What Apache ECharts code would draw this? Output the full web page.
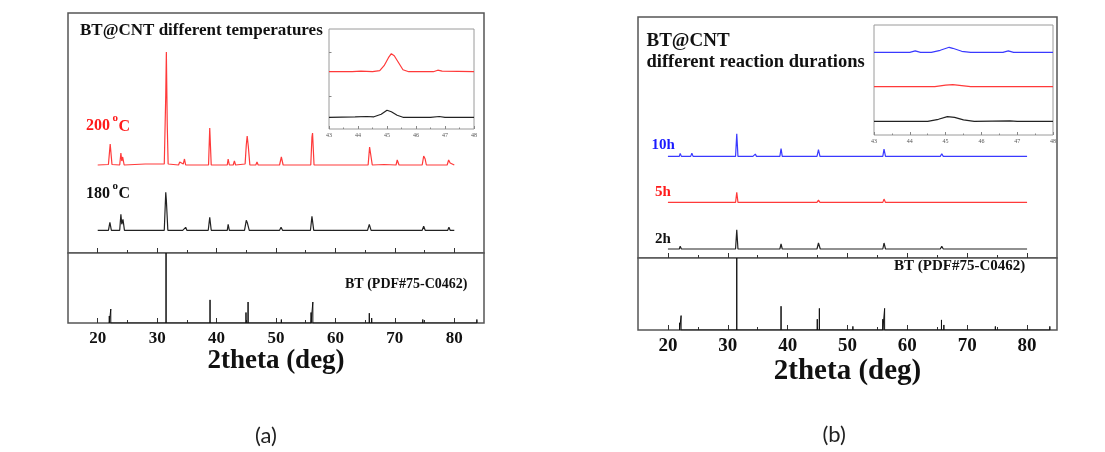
<!DOCTYPE html>
<html lang="en">
<head>
<meta charset="UTF-8">
<title>BT@CNT XRD</title>
<script src="https://cdn.jsdelivr.net/npm/echarts@6/dist/echarts.min.js"></script>
<style>
  body, html { padding: 0; margin: 0; background: #fff; }
</style>
</head>
<body>
<div id="chart" style="width:1105px;height:452px;"></div>
<script>
// 2theta range and tick labels
var xRange = [15, 85];
var majorTicks = [20, 30, 40, 50, 60, 70, 80];
var minorTicks = [25, 35, 45, 55, 65, 75];
var insetTicks = [43, 44, 45, 46, 47, 48];

// (a) different temperatures, intensity above own baseline [2theta, a.u.]
var t200 = [[20,0],[21.8,0.5],[22.1,21],[22.4,0.5],[23.7,0],[23.9,12],[24.05,4],[24.2,8],[24.45,0],[28,1],[31.2,1],[31.45,70],[31.55,113],[31.7,40],[31.85,1],[33.6,0],[33.8,3],[34.0,1],[34.4,1],[34.6,6],[34.8,0],[38.65,0],[38.85,37],[39.1,0],[41.8,0],[41.95,6],[42.15,0],[42.8,0],[43.0,4],[43.2,0],[44.8,1],[45.0,20],[45.15,29],[45.35,18],[45.6,0],[46.6,0],[46.8,3],[47.0,0],[50.6,0],[50.9,8],[51.2,0],[55.85,0],[56.05,28],[56.15,32],[56.4,0],[65.5,0],[65.75,18],[65.9,12],[66.2,0],[68.2,0.5],[70.2,0],[70.4,5],[70.7,0],[74.6,0],[74.85,9],[75.1,6],[75.3,0],[78.8,0],[79.05,5],[79.3,2],[79.6,0],[80,0]];
var t180 = [[20,0],[21.8,0],[22.05,8],[22.3,0],[23.7,0],[23.9,16],[24.05,6],[24.25,11],[24.5,0],[31.2,0],[31.45,38],[31.55,30],[31.8,0],[34.3,0],[34.5,2],[34.8,3],[35.0,0],[38.6,0],[38.85,13],[39.1,0],[41.8,0],[41.95,6],[42.15,0],[44.7,0],[45.0,10],[45.2,7],[45.5,0],[46.7,0],[46.85,2],[47,0],[50.6,0],[50.85,3],[51.1,0],[55.8,0],[56.05,14],[56.35,0],[65.4,0],[65.7,6],[66.0,0],[68.0,0],[68.2,2],[68.4,0],[70.2,0],[70.4,2],[70.6,0],[74.6,0],[74.85,4],[75.1,0],[78.9,0],[79.1,3],[79.3,0],[80,0]];
var inset200 = [[43,0],[43.8,0],[44.1,0.5],[44.12,2],[44.15,0.5],[44.5,0],[44.75,1],[44.9,6],[45.05,14],[45.15,18],[45.25,16],[45.4,9],[45.55,2],[45.75,0],[46.6,0],[46.75,1.5],[46.9,0.5],[48,0]];
var inset180 = [[43,0],[43.9,0.5],[44.3,0.8],[44.55,0.5],[44.8,3],[45.0,7],[45.15,5.5],[45.35,2],[45.55,0],[46.5,0],[46.8,0.8],[47,0],[48,0]];

// (b) different reaction durations
var t10h = [[20,0],[21.9,0],[22.05,3],[22.25,0],[23.8,0],[24.0,3.3],[24.2,0],[31.3,0],[31.5,22.7],[31.7,0],[33.8,0],[34.0,1.5],[34.2,0],[34.45,0],[34.6,2.3],[34.8,0],[38.7,0],[38.9,7.7],[39.1,0],[41.8,0],[42.0,2],[42.2,0],[42.9,0],[43.1,1],[43.3,0],[44.9,0],[45.15,6.7],[45.4,0],[50.7,0],[50.95,2],[51.2,0],[55.9,0],[56.1,7.3],[56.35,0],[65.5,0],[65.75,2.7],[66.0,0],[70.2,0],[70.4,1],[70.6,0],[74.7,0],[74.9,2],[75.1,0],[78.9,0],[79.1,1],[79.3,0],[80,0]];
var t5h = [[20,0],[21.9,0],[22.05,1.7],[22.25,0],[23.8,0],[24.0,1.7],[24.2,0],[31.3,0],[31.5,10],[31.7,0],[34.4,0],[34.6,0.8],[34.8,0],[38.7,0],[38.9,2],[39.1,0],[44.9,0],[45.15,2.3],[45.4,0],[50.7,0],[50.95,0.8],[51.2,0],[55.9,0],[56.1,3.3],[56.35,0],[65.5,0],[65.75,1.3],[66.0,0],[74.7,0],[74.9,1.3],[75.1,0],[80,0]];
var t2h = [[20,0],[21.9,0],[22.05,2.7],[22.25,0],[23.8,0],[24.0,2],[24.2,0],[31.3,0],[31.5,19.3],[31.7,0],[34.4,0],[34.6,1],[34.8,0],[38.7,0],[38.9,5],[39.1,0],[44.9,0],[45.15,6],[45.45,0],[50.7,0],[50.95,1.7],[51.2,0],[55.9,0],[56.1,6],[56.35,0],[65.5,0],[65.75,2.7],[66.0,0],[74.7,0],[74.9,1.7],[75.1,0],[78.9,0],[79.1,1],[79.3,0],[80,0]];
var inset10h = [[43,0],[44.0,0],[44.15,1.5],[44.3,0],[44.6,0],[44.85,2],[45.1,5],[45.2,4],[45.45,1],[45.7,0],[46.6,0],[46.75,1.5],[46.9,0],[48,0]];
var inset5h = [[43,0],[44.7,0],[45.0,1.5],[45.2,2],[45.45,1],[45.7,0],[48,0]];
var inset2h = [[43,0],[44.5,0],[44.8,2],[45.05,4.7],[45.25,4],[45.5,1.5],[45.8,0],[46.8,0.5],[47,0],[48,0]];

// BT reference card PDF#75-C0462 [2theta, relative intensity]
var btSticks = [[21.95,10],[22.2,20],[31.5,100],[38.9,33],[44.95,15],[45.3,30],[50.9,5],[55.9,15],[56.2,30],[65.7,14],[66.1,7],[74.7,5],[79.1,2],[83.8,5]];

var serif = '"Liberation Serif", "Times New Roman", serif';
var RED = '#ff3a3a', BLUE = '#3a3aff', BLACK = '#222';

var grids = [
  {left: 68, top: 13, width: 416, height: 240},   // 0 a upper
  {left: 68, top: 253, width: 416, height: 70},   // 1 a lower
  {left: 329, top: 29, width: 145, height: 100},  // 2 a inset
  {left: 638, top: 17, width: 419, height: 241},  // 3 b upper
  {left: 638, top: 258, width: 419, height: 72},  // 4 b lower
  {left: 874, top: 25, width: 179, height: 110}   // 5 b inset
];
grids.forEach(function (g, i) {
  var inset = (i === 2 || i === 5);
  g.show = true;
  g.backgroundColor = '#fff';
  g.borderColor = inset ? '#9a9a9a' : '#555';
  g.borderWidth = inset ? 1 : 1.5;
});

var xAxes = [], yAxes = [];
function mainX(gi, withLabel, labelSize, nameSize, nameGap) {
  var ax = {
    gridIndex: gi, type: 'value', position: 'bottom', min: xRange[0], max: xRange[1],
    axisLine: {show: false}, splitLine: {show: false},
    axisTick: {inside: true, length: 5, customValues: majorTicks, lineStyle: {color: '#333'}},
    axisLabel: {show: withLabel, customValues: majorTicks, margin: 7,
      fontFamily: serif, fontWeight: 'bold', fontSize: labelSize, color: '#111'}
  };
  if (withLabel) {
    ax.name = '2theta (deg)';
    ax.nameLocation = 'middle';
    ax.nameGap = nameGap;
    ax.nameTextStyle = {fontFamily: serif, fontWeight: 'bold', fontSize: nameSize, color: '#111'};
  }
  xAxes.push(ax);
  xAxes.push({
    gridIndex: gi, type: 'value', position: 'bottom', min: xRange[0], max: xRange[1],
    axisLine: {show: false}, splitLine: {show: false}, axisLabel: {show: false},
    axisTick: {inside: true, length: 3, customValues: minorTicks, lineStyle: {color: '#333'}}
  });
  return xAxes.length - 2;
}
function insetX(gi) {
  xAxes.push({
    gridIndex: gi, type: 'value', position: 'bottom', min: 43, max: 48, interval: 1,
    axisLine: {show: false}, splitLine: {show: false},
    axisTick: {inside: true, length: 3, lineStyle: {color: '#888'}},
    minorTick: {show: true, splitNumber: 2, length: 1.5, lineStyle: {color: '#888'}},
    axisLabel: {margin: 3, fontSize: 6, fontFamily: serif, color: '#555', customValues: insetTicks}
  });
  return xAxes.length - 1;
}
function plainY(gi, max, ticks) {
  yAxes.push({
    gridIndex: gi, type: 'value', position: 'left', min: 0, max: max,
    axisLine: {show: false}, splitLine: {show: false}, axisLabel: {show: false},
    axisTick: ticks ? {inside: true, length: 2.5, customValues: ticks, lineStyle: {color: '#888'}} : {show: false}
  });
  return yAxes.length - 1;
}

var xa = {
  aU: mainX(0, false), aL: mainX(1, true, 17, 27, 22), aI: insetX(2),
  bU: mainX(3, false), bL: mainX(4, true, 19, 29, 26), bI: insetX(5)
};
var ya = {
  aU: plainY(0, 240), aL: plainY(1, 100), aI: plainY(2, 100, [33, 77]),
  bU: plainY(3, 241), bL: plainY(4, 100), bI: plainY(5, 110)
};

function trace(pts, offset, color, x, y) {
  return {
    type: 'line', xAxisIndex: x, yAxisIndex: y, symbol: 'none', silent: true,
    lineStyle: {color: color, width: 1.2}, z: 3,
    data: pts.map(function (p) { return [p[0], p[1] + offset]; })
  };
}
function sticks(x, y) {
  var d = [];
  btSticks.forEach(function (s) { d.push([s[0], 0], [s[0], s[1]], [s[0], 0]); });
  return {type: 'line', xAxisIndex: x, yAxisIndex: y, symbol: 'none', silent: true,
    lineStyle: {color: '#111', width: 1}, data: d};
}

var series = [
  trace(t200, 88, RED, xa.aU, ya.aU),
  trace(t180, 22.7, BLACK, xa.aU, ya.aU),
  trace(inset200, 57.3, RED, xa.aI, ya.aI),
  trace(inset180, 11.7, BLACK, xa.aI, ya.aI),
  sticks(xa.aL, ya.aL),
  trace(t10h, 101.6, BLUE, xa.bU, ya.bU),
  trace(t5h, 55.6, RED, xa.bU, ya.bU),
  trace(t2h, 9, BLACK, xa.bU, ya.bU),
  trace(inset10h, 82.7, BLUE, xa.bI, ya.bI),
  trace(inset5h, 48.3, RED, xa.bI, ya.bI),
  trace(inset2h, 13.7, BLACK, xa.bI, ya.bI),
  sticks(xa.bL, ya.bL)
];

function txt(s, x, y, size, color, bold, family) {
  return {type: 'text', x: x, y: y, z: 10, silent: true,
    style: {text: s, fill: color || '#111', verticalAlign: 'middle', align: 'left',
      font: (bold === false ? '' : 'bold ') + size + 'px ' + (family || serif)}};
}

var graphics = [
  txt('BT@CNT different temperatures', 80, 31, 17),
  txt('200', 86, 126, 16, '#ff1a1a'), txt('o', 112.5, 118.5, 11, '#ff1a1a'), txt('C', 118.5, 126.5, 16, '#ff1a1a'),
  txt('180', 86, 194, 16), txt('o', 112.5, 186.5, 11), txt('C', 118.5, 194, 16),
  txt('BT (PDF#75-C0462)', 345, 284, 14),
  txt('(a)', 255, 435.5, 22, '#222', false, 'Lato, "Open Sans", sans-serif'),
  txt('BT@CNT', 646.5, 41, 19),
  txt('different reaction durations', 646.5, 62.5, 18.5),
  txt('10h', 651.5, 144.7, 15, '#1a1aff'),
  txt('5h', 655, 192.5, 15, '#ff1a1a'),
  txt('2h', 655, 239, 15),
  txt('BT (PDF#75-C0462)', 894, 266, 15),
  txt('(b)', 822.5, 435, 22, '#222', false, 'Lato, "Open Sans", sans-serif')
];

var chart = echarts.init(document.getElementById('chart'));
chart.setOption({
  animation: false,
  backgroundColor: '#fff',
  grid: grids,
  xAxis: xAxes,
  yAxis: yAxes,
  series: series,
  graphic: graphics
});
</script>
</body>
</html>
